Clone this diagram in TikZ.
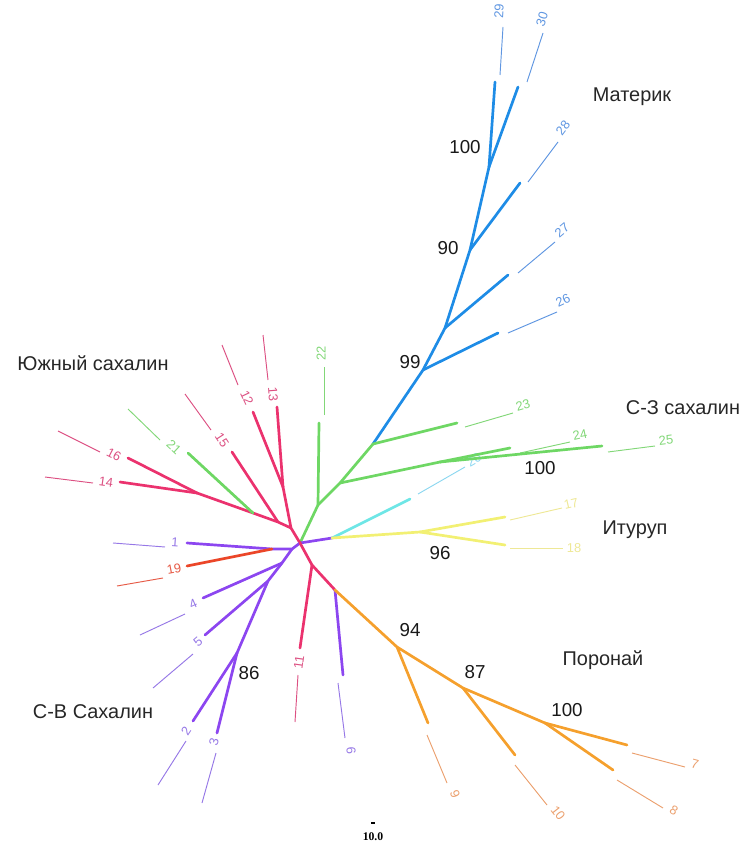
\documentclass[tikz,border=0pt]{standalone}
\usepackage{fontspec}
\setmainfont{Liberation Sans}
\newfontfamily\scalefont{Liberation Serif}

\definecolor{blueB}{RGB}{30,140,230}
\definecolor{blueT}{RGB}{95,150,225}
\definecolor{greenB}{RGB}{110,215,100}
\definecolor{greenT}{RGB}{130,215,120}
\definecolor{cyanB}{RGB}{110,230,230}
\definecolor{cyanT}{RGB}{140,215,240}
\definecolor{yellowB}{RGB}{242,240,115}
\definecolor{yellowT}{RGB}{238,232,150}
\definecolor{orangeB}{RGB}{245,160,45}
\definecolor{orangeT}{RGB}{235,160,110}
\definecolor{purpleB}{RGB}{140,70,240}
\definecolor{purpleT}{RGB}{150,120,230}
\definecolor{pinkB}{RGB}{235,50,110}
\definecolor{pinkT}{RGB}{220,80,130}
\definecolor{redB}{RGB}{235,70,40}
\definecolor{redT}{RGB}{230,90,70}

\begin{document}
\begin{tikzpicture}[x=0.03cm,y=-0.03cm,
  branch/.style={line width=2.3pt,line cap=round},
  tipline/.style={line width=0.8pt},
  tiplab/.style={font=\fontsize{11}{11}\selectfont,inner sep=0pt},
  region/.style={font=\fontsize{17}{19}\selectfont,text=black!85},
  boot/.style={font=\fontsize{16}{18}\selectfont,inner sep=0pt,text=black!90}]
\useasboundingbox (0,0) rectangle (753,844);

% internal nodes of the tree
\coordinate (hub) at (300,543);
\coordinate (e1) at (332,538);
\coordinate (yl) at (420,532);
\coordinate (g1) at (318,505);
\coordinate (g2) at (340,483);
\coordinate (g3) at (373,444);
\coordinate (g24) at (440,462);
\coordinate (b99) at (423,370);
\coordinate (b27) at (445,328);
\coordinate (b90) at (470,250);
\coordinate (b100) at (489,167);
\coordinate (p1) at (291,528);
\coordinate (p2) at (283,487);
\coordinate (p3) at (278,522);
\coordinate (p21) at (253,513);
\coordinate (p1416) at (197,493);
\coordinate (q1) at (292,549);
\coordinate (q19) at (272,549);
\coordinate (q4) at (282,563);
\coordinate (q5) at (268,581);
\coordinate (q86) at (237,653);
\coordinate (s1) at (312,565);
\coordinate (s6) at (335,590);
\coordinate (o94) at (397,647);
\coordinate (o87) at (463,688);
\coordinate (o100) at (545,723);

% ends of the thick branches
\foreach \k/\x/\y in {20/410/499, 17/505/517, 18/505/545, 22/319/423,
    23/457/423, 24/510/448, 25/602/446, 26/498/333, 27/508/275,
    28/520/183, 29/495/82, 30/518/87, 12/253/412, 13/277/407,
    15/232/452, 21/188/453, 16/128/458, 14/120/482, 1/187/543,
    19/187/566, 4/203/598, 5/205/635, 2/193/721, 3/217/733,
    11/300/648, 6/343/675, 9/428/723, 10/515/755, 7/627/745, 8/613/770}
  \coordinate (t\k) at (\x,\y);

% thin tip segments and their numbers
\foreach \k/\ux/\uy/\vx/\vy/\lx/\ly/\r/\c in {
    20/418/494/465/467/474/460/30/cyanT,
    17/510/520/562/508/571/504/13/yellowT,
    18/510/548/563/548/574/548/0/yellowT,
    22/324/415/324/367/321/353/90/greenT,
    23/465/427/513/413/523/405/16/greenT,
    24/520/453/570/442/580/435/12/greenT,
    25/608/452/655/446/666/440/7/greenT,
    26/508/333/557/312/563/300/25/blueT,
    27/518/273/555/242/562/230/40/blueT,
    28/528/182/558/142/563/128/53/blueT,
    29/500/75/503/27/499/11/87/blueT,
    30/527/82/543/33/542/19/72/blueT,
    12/238/385/222/345/247/398/-65/pinkT,
    13/268/380/263/335/273/394/-86/pinkT,
    15/211/430/185/394/222/440/-57/pinkT,
    21/160/440/128/409/174/447/-43/greenT,
    16/100/452/58/431/114/455/-27/pinkT,
    14/93/483/45/477/106/482/-8/pinkT,
    1/165/547/113/543/175/542/-4/purpleT,
    19/163/578/117/586/174/569/11/redT,
    4/185/614/140/635/193/604/24/purpleT,
    5/193/654/153/688/198/642/41/purpleT,
    2/186/741/158/785/186/731/57/purpleT,
    3/216/753/202/803/214/742/76/purpleT,
    11/298/675/295/722/299/662/82/pinkT,
    6/338/683/345/738/351/751/-85/purpleT,
    9/427/735/447/783/455/794/-68/orangeT,
    10/515/765/547/805/558/813/-52/orangeT,
    7/632/753/685/767/695/764/-15/orangeT,
    8/617/780/663/808/674/810/-30/orangeT}
{
  \coordinate (u\k) at (\ux,\uy);
  \coordinate (v\k) at (\vx,\vy);
  \draw[tipline,\c] (u\k) -- (v\k);
  \node[tiplab,text=\c,rotate=\r] (l\k) at (\lx,\ly) {\k};
}

% Материк
\draw[branch,blueB] (g3) -- (b99) -- (b27) -- (b90) -- (b100);
\draw[branch,blueB] (b99) -- (t26);
\draw[branch,blueB] (b27) -- (t27);
\draw[branch,blueB] (b90) -- (t28);
\draw[branch,blueB] (b100) -- (t29);
\draw[branch,blueB] (b100) -- (t30);

% С-З сахалин
\draw[branch,greenB] (hub) -- (g1) -- (g2) -- (g3);
\draw[branch,greenB] (g1) -- (t22);
\draw[branch,greenB] (g2) -- (g24);
\draw[branch,greenB] (g24) -- (t24);
\draw[branch,greenB] (g24) -- (t25);
\draw[branch,greenB] (g3) -- (t23);

% Итуруп
\draw[branch,purpleB] (hub) -- (e1);
\draw[branch,cyanB] (e1) -- (t20);
\draw[branch,yellowB] (e1) -- (yl);
\draw[branch,yellowB] (yl) -- (t17);
\draw[branch,yellowB] (yl) -- (t18);

% Южный сахалин
\draw[branch,pinkB] (hub) -- (p1) -- (p2);
\draw[branch,pinkB] (p2) -- (t12);
\draw[branch,pinkB] (p2) -- (t13);
\draw[branch,pinkB] (p1) -- (p3) -- (p21) -- (p1416);
\draw[branch,pinkB] (p3) -- (t15);
\draw[branch,greenB] (p21) -- (t21);
\draw[branch,pinkB] (p1416) -- (t16);
\draw[branch,pinkB] (p1416) -- (t14);

% С-В Сахалин
\draw[branch,purpleB] (hub) -- (q1) -- (q19) -- (t1);
\draw[branch,redB] (q19) -- (t19);
\draw[branch,purpleB] (q1) -- (q4) -- (q5) -- (q86);
\draw[branch,purpleB] (q4) -- (t4);
\draw[branch,purpleB] (q5) -- (t5);
\draw[branch,purpleB] (q86) -- (t2);
\draw[branch,purpleB] (q86) -- (t3);

% Поронай
\draw[branch,pinkB] (hub) -- (s1) -- (s6);
\draw[branch,pinkB] (s1) -- (t11);
\draw[branch,purpleB] (s6) -- (t6);
\draw[branch,orangeB] (s6) -- (o94) -- (o87) -- (o100);
\draw[branch,orangeB] (o94) -- (t9);
\draw[branch,orangeB] (o87) -- (t10);
\draw[branch,orangeB] (o100) -- (t7);
\draw[branch,orangeB] (o100) -- (t8);

% bootstrap values
\node[boot] (n100a) at (465,147) {100};
\node[boot] (n90) at (448,248) {90};
\node[boot] (n99) at (410,362) {99};
\node[boot] (n100b) at (540,468) {100};
\node[boot] (n96) at (440,553) {96};
\node[boot] (n94) at (410,630) {94};
\node[boot] (n87) at (475,672) {87};
\node[boot] (n100c) at (567,710) {100};
\node[boot] (n86) at (249,673) {86};

% regions
\node[region] (mat) at (632,97) {Материк};
\node[region] (south) at (93,363) {Южный сахалин};
\node[region] (nw) at (683,408) {С-З сахалин};
\node[region] (itu) at (635,530) {Итуруп};
\node[region] (por) at (603,660) {Поронай};
\node[region] (ne) at (93,712) {С-В Сахалин};

% scale
\coordinate (sa) at (371,823);
\coordinate (sb) at (375,823);
\draw[line width=1pt] (sa) -- (sb);
\node[font=\scalefont\bfseries\fontsize{10}{10}\selectfont] (scl) at (373,837) {10.0};
\end{tikzpicture}
\end{document}
